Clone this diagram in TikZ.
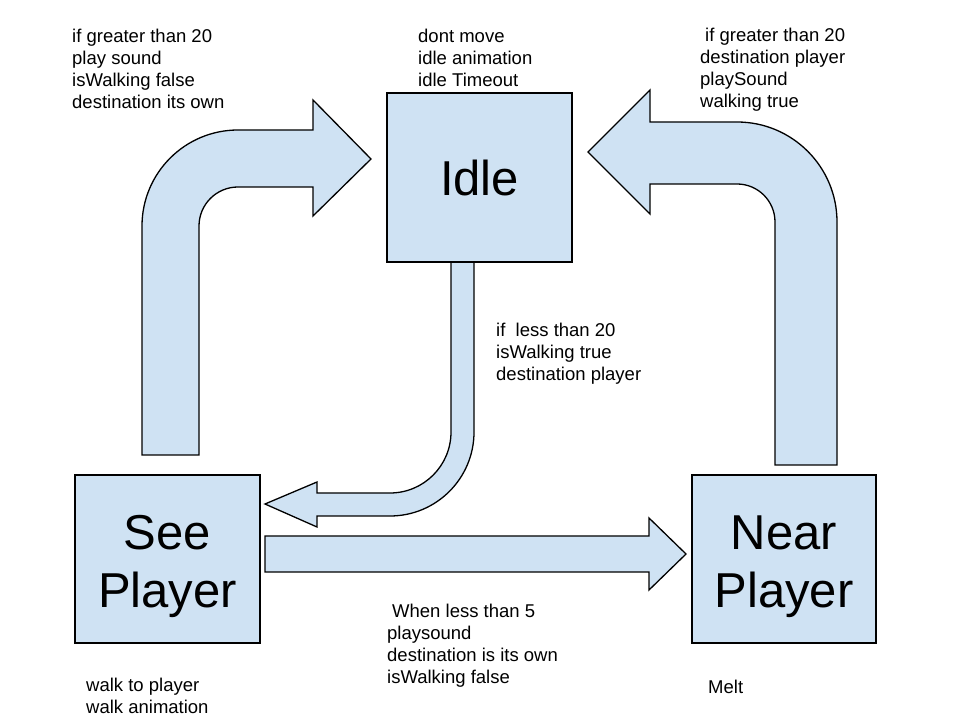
\documentclass[tikz,border=0pt]{standalone}
\usepackage{fontspec}
\setmainfont{Liberation Sans}
\definecolor{boxblue}{HTML}{CFE2F3}
\begin{document}
\begin{tikzpicture}[x=1pt,y=1pt,
  shapefill/.style={fill=boxblue,draw=black,line width=1.3pt,line join=miter},
  statebox/.style={shapefill,rectangle,inner sep=0pt,align=center,
    font=\fontsize{49}{58}\selectfont},
  lbl/.style={anchor=base west,inner sep=0pt,align=left,
    font=\fontsize{18.5}{22}\selectfont}]
\useasboundingbox (0,0) rectangle (960,720);
% block arrows
\draw[shapefill] (142,265) -- (142,494) arc[start angle=180,end angle=90,radius=96]
  -- (313,590) -- (313,620) -- (371,561) -- (313,504) -- (313,533) -- (238,533)
  arc[start angle=90,end angle=180,radius=39] -- (199,265) -- cycle;
\draw[shapefill] (837,255) -- (837,498) arc[start angle=0,end angle=90,radius=100]
  -- (650,598) -- (650,630) -- (588,568) -- (650,506) -- (650,536) -- (737,536)
  arc[start angle=90,end angle=0,radius=38] -- (775,255) -- cycle;
\draw[shapefill] (451,458) -- (451,288) arc[start angle=0,end angle=-90,radius=61]
  -- (317,227) -- (317,238) -- (265,216) -- (317,193) -- (317,204) -- (390,204)
  arc[start angle=-90,end angle=0,radius=84] -- (474,458) -- cycle;
\draw[shapefill] (265,184) -- (649,184) -- (649,202) -- (686,166) -- (649,130)
  -- (649,148) -- (265,148) -- cycle;
% states
\node[statebox,minimum width=185pt,minimum height=169pt] (idle) at (479.5,542.5) {Idle};
\node[statebox,minimum width=185pt,minimum height=168pt] (see) at (167.5,161) {\rule{0pt}{48.5pt}See\\Player};
\node[statebox,minimum width=184pt,minimum height=168pt] (near) at (784,161) {\rule{0pt}{48.5pt}Near\\Player};
% labels (anchored at the baseline of the last line)
\node[lbl] (l1) at (72,611) {if greater than 20\\play sound\\isWalking false\\destination its own};
\node[lbl] (l2) at (418,633) {dont move\\idle animation\\idle Timeout};
\node[lbl] (l3) at (700,612) {\hspace*{5pt}if greater than 20\\destination player\\playSound\\walking true};
\node[lbl] (l4) at (496,339) {if\ \ less than 20\\isWalking true\\destination player};
\node[lbl] (l5) at (387,37) {\hspace*{5pt}When less than 5\\playsound\\destination is its own\\isWalking false};
\node[lbl] (l6) at (86,7) {walk to player\\walk animation};
\node[lbl] (l7) at (708,27) {Melt};
\end{tikzpicture}
\end{document}
